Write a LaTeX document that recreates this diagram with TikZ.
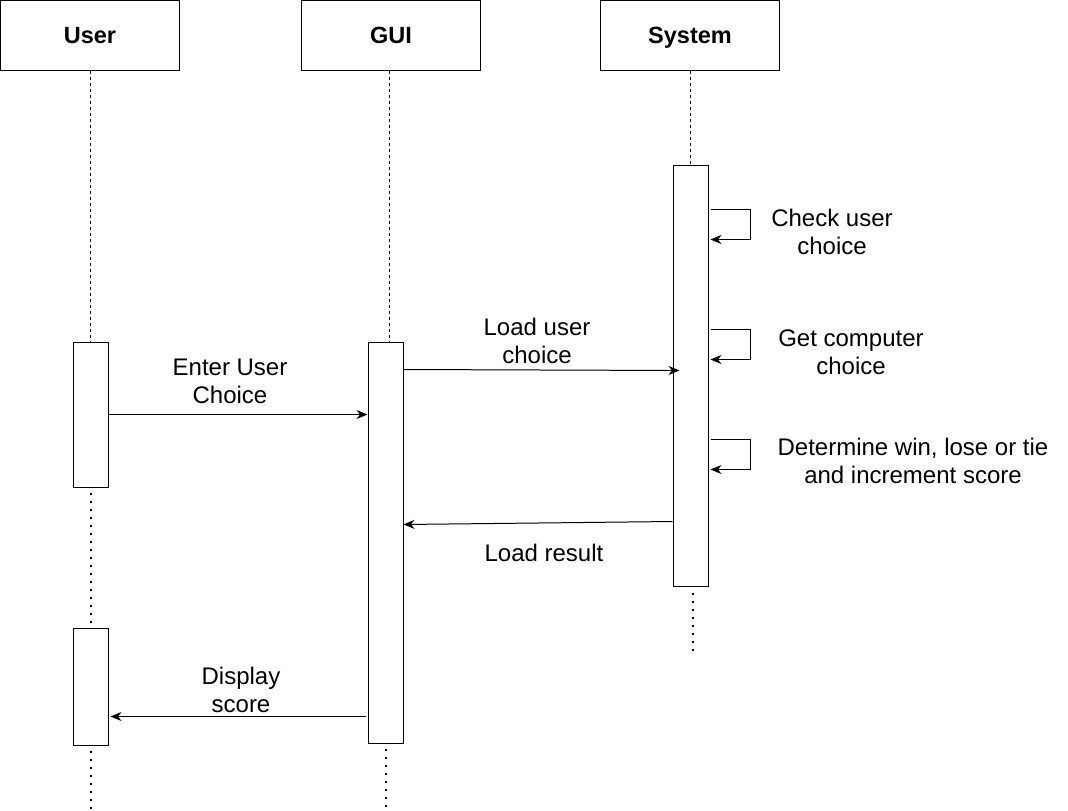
\documentclass[tikz,border=0pt]{standalone}
\usepackage{fontspec}
\setmainfont{Liberation Sans}
\usetikzlibrary{arrows.meta,calc}
\begin{document}
\begin{tikzpicture}[x=1pt,y=-1pt,
  head/.style={draw,line width=1pt,minimum width=179pt,minimum height=69.5pt,inner sep=0pt,text height=17pt,text depth=0pt,font=\fontsize{23.5}{28}\selectfont\bfseries},
  act/.style={draw,line width=1pt,fill=white,minimum width=35pt,inner sep=0pt},
  life/.style={line width=0.8pt,dash pattern=on 3pt off 3pt},
  dots/.style={line width=2pt,dash pattern=on 2pt off 6pt},
  msg/.style={line width=1pt,-{Stealth[length=11pt,width=9pt]}},
  lbl/.style={font=\fontsize{24}{28}\selectfont,align=center,inner sep=0pt}]
\useasboundingbox (0,0) rectangle (1068,811);

% headers
\node[head] (user) at (90,35.25) {User};
\node[head] (gui) at (391,35.25) {GUI};
\node[head] (sys) at (690,35.25) {System};

% activations
\node[act,minimum height=145pt] (uact1) at (90.5,414.5) {};
\node[act,minimum height=117pt] (uact2) at (90.5,686.5) {};
\node[act,minimum height=401pt] (gact) at (385.5,542.5) {};
\node[act,minimum height=421pt] (sact) at (690.5,375.5) {};

% lifelines
\draw[life] (user.south) -- (user.south |- uact1.north);
\draw[life] ($(gui.south)+(-2,0)$) -- ($(gui.south |- gact.north)+(-2,0)$);
\draw[life] (sys.south) -- (sys.south |- sact.north);
\draw[dots] ($(uact1.south)+(0,5)$) -- (uact2.north);
\draw[dots] ($(uact2.south)+(0,5)$) -- ($(uact2.south)+(0,66)$);
\draw[dots] ($(gact.south)+(0,5)$) -- ($(gact.south)+(0,68)$);
\draw[dots] ($(sact.south)+(2,6)$) -- ($(sact.south)+(2,69)$);

% self loops
\draw[msg] ($(sact.north east)+(2,45)$) -- ++(40,0) -- ++(0,30) -- ++(-40,0);
\draw[msg] ($(sact.north east)+(2,165)$) -- ++(40,0) -- ++(0,30) -- ++(-40,0);
\draw[msg] ($(sact.north east)+(2,275)$) -- ++(40,0) -- ++(0,30) -- ++(-40,0);
\node[lbl] (l1) at (832,232) {Check user\\choice};
\node[lbl] (l2) at (851,352) {Get computer\\choice};
\node[lbl] (l3) at (913,461) {Determine win, lose or tie\\and increment score};

% messages
\draw[msg] ($(uact1.north east)+(0,73)$) -- ($(gact.north west)+(0,73)$);
\node[lbl] (m1) at (230,381) {Enter User\\Choice};
\draw[msg] ($(gact.north east)+(0,28)$) -- ($(sact.north west)+(7,206)$);
\node[lbl] (m2) at (537,341) {Load user\\choice};
\draw[msg] ($(sact.north west)+(0,357)$) -- ($(gact.north east)+(0,183)$);
\node[lbl] (m3) at (544,553) {Load result};
\draw[msg] ($(gact.north west)+(-2,375)$) -- ($(uact2.north east)+(2,89)$);
\node[lbl] (m4) at (241,690) {Display\\score};
\end{tikzpicture}
\end{document}
